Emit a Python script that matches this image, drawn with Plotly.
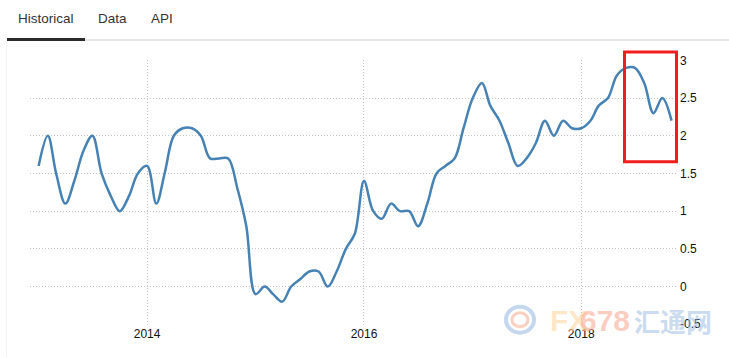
import plotly.graph_objects as go
import pandas as pd

# ---- data (monthly, Jan 2013 - Nov 2018) ----
start_month = "2013-01-01"
values_2013 = [1.6, 2.0, 1.5, 1.1, 1.4, 1.8, 2.0, 1.5, 1.2, 1.0, 1.2, 1.5]
values_2014 = [1.6, 1.1, 1.5, 2.0, 2.1, 2.1, 2.0, 1.7, 1.7, 1.7, 1.3, 0.8]
values_2015 = [-0.1, 0.0, -0.1, -0.2, 0.0, 0.1, 0.2, 0.2, 0.0, 0.2, 0.5, 0.7]
values_2016 = [1.4, 1.0, 0.9, 1.1, 1.0, 1.0, 0.8, 1.1, 1.5, 1.6, 1.7, 2.1]
values_2017 = [2.5, 2.7, 2.4, 2.2, 1.9, 1.6, 1.7, 1.9, 2.2, 2.0, 2.2, 2.1]
values_2018 = [2.1, 2.2, 2.4, 2.5, 2.8, 2.9, 2.9, 2.7, 2.3, 2.5, 2.2]

values = values_2013 + values_2014 + values_2015 + values_2016 + values_2017 + values_2018
dates = pd.date_range(start_month, periods=len(values), freq="MS")

y_ticks = [-0.5, 0, 0.5, 1, 1.5, 2, 2.5, 3]
y_tick_text = ["-0.5", "0", "0.5", "1", "1.5", "2", "2.5", "3"]
x_ticks = ["2014-01-01", "2016-01-01", "2018-01-01"]
x_tick_text = ["2014", "2016", "2018"]
tabs = ["Historical", "Data", "API"]

W, H = 729, 358
L, R, T, B = 30, 676, 59.6, 325.3


def px(x):
    return (x - L) / (R - L)


def py(y):
    return (B - y) / (B - T)


fig = go.Figure()
fig.add_trace(go.Scatter(
    x=dates, y=values, mode="lines",
    line=dict(color="#4682b4", width=2.5, shape="spline", smoothing=1),
    hoverinfo="x+y", showlegend=False,
))

grid = dict(showgrid=True, gridcolor="#c4c4c4", gridwidth=1, griddash="1px,2px")

fig.update_layout(
    width=W, height=H,
    margin=dict(l=L, r=W - R, t=T, b=H - B, pad=0),
    paper_bgcolor="white", plot_bgcolor="white",
    font=dict(family="Liberation Sans, Arial, sans-serif", size=12, color="#111"),
    xaxis=dict(
        range=["2012-12-03", "2018-11-16"],
        tickvals=x_ticks, ticktext=x_tick_text,
        showline=False, zeroline=False, ticks="",
        tickfont=dict(size=12, color="#111"),
        **grid,
    ),
    yaxis=dict(
        range=[-0.51, 3.005], side="right",
        tickvals=y_ticks, ticktext=y_tick_text,
        showline=False, zeroline=False, ticks="",
        ticklabelstandoff=3,
        tickfont=dict(size=12, color="#111"),
        **grid,
    ),
)

shapes = []
# tabs underline
shapes.append(dict(type="line", xref="paper", yref="paper",
                   x0=px(85), x1=px(729), y0=py(39.5), y1=py(39.5),
                   line=dict(color="#e0e0e0", width=1.5)))
shapes.append(dict(type="line", xref="paper", yref="paper",
                   x0=px(7), x1=px(85), y0=py(39), y1=py(39),
                   line=dict(color="#2b2b2b", width=3)))
shapes.append(dict(type="line", xref="paper", yref="paper",
                   x0=px(6.5), x1=px(6.5), y0=py(41), y1=py(358),
                   line=dict(color="#f3f3f3", width=1)))
# red highlight box
shapes.append(dict(type="rect", xref="paper", yref="paper",
                   x0=px(624.5), x1=px(676.5), y0=py(161.5), y1=py(51.5),
                   line=dict(color="#f21e1e", width=3), fillcolor="rgba(0,0,0,0)"))
# watermark logo circles
shapes.append(dict(type="circle", xref="paper", yref="paper",
                   x0=px(506), x1=px(534), y0=py(333), y1=py(307),
                   line=dict(color="rgba(150,180,225,0.55)", width=4)))
shapes.append(dict(type="circle", xref="paper", yref="paper",
                   x0=px(512), x1=px(528), y0=py(327), y1=py(313),
                   line=dict(color="rgba(248,170,140,0.55)", width=3)))
fig.update_layout(shapes=shapes)

annotations = []
tab_x = [46, 112, 161.5]
for t, x in zip(tabs, tab_x):
    annotations.append(dict(text=t, xref="paper", yref="paper", x=px(x), y=py(18),
                            showarrow=False, xanchor="center", yanchor="middle",
                            font=dict(family="Liberation Sans, Arial, sans-serif",
                                      size=13.5, color="#333")))
# watermark text
annotations.append(dict(text="<b>FX</b>", xref="paper", yref="paper", x=px(548), y=py(321),
                        showarrow=False, xanchor="left", yanchor="middle",
                        font=dict(family="Liberation Sans Narrow, Liberation Sans, sans-serif",
                                  size=30, color="rgba(253,215,160,0.6)")))
annotations.append(dict(text="<b>678</b>", xref="paper", yref="paper", x=px(578), y=py(321),
                        showarrow=False, xanchor="left", yanchor="middle",
                        font=dict(family="Liberation Sans Narrow, Liberation Sans, sans-serif",
                                  size=30, color="rgba(249,170,150,0.6)")))
annotations.append(dict(text="<b>汇通网</b>", xref="paper", yref="paper", x=px(632), y=py(321),
                        showarrow=False, xanchor="left", yanchor="middle",
                        font=dict(family="Noto Sans CJK SC, sans-serif",
                                  size=26, color="rgba(160,190,228,0.55)")))
fig.update_layout(annotations=annotations)

fig.write_html("out.html")
